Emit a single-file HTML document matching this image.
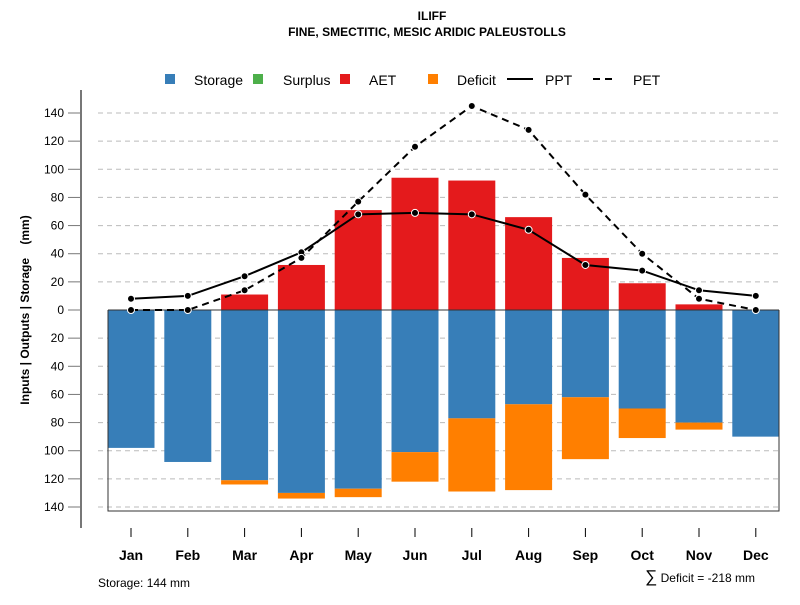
<!DOCTYPE html>
<html><head><meta charset="utf-8"><style>
body{margin:0;background:#fff}
svg text{font-family:"Liberation Sans",Arial,sans-serif}
</style></head><body>
<svg id="c" width="800" height="600" xmlns="http://www.w3.org/2000/svg">
<text x="432" y="20" text-anchor="middle" font-size="12" font-weight="bold">ILIFF</text>
<text x="427" y="36" text-anchor="middle" font-size="12" font-weight="bold">FINE, SMECTITIC, MESIC ARIDIC PALEUSTOLLS</text>
<g id="grid"></g>
<g id="bars"></g>
<g id="lines"></g>
<g id="axes"></g>
<g font-size="14">
<rect x="165" y="74" width="10" height="10" fill="#377eb8"/>
<text x="194" y="85">Storage</text>
<rect x="253" y="74" width="10" height="10" fill="#4daf4a"/>
<text x="283" y="85">Surplus</text>
<rect x="340" y="74" width="10" height="10" fill="#e41a1c"/>
<text x="369" y="85">AET</text>
<rect x="428" y="74" width="10" height="10" fill="#ff7f00"/>
<text x="457" y="85">Deficit</text>
<line x1="507" y1="79" x2="533" y2="79" stroke="#000" stroke-width="2"/>
<text x="545" y="85">PPT</text>
<line x1="593" y1="79" x2="617" y2="79" stroke="#000" stroke-width="2" stroke-dasharray="7,5"/>
<text x="633" y="85">PET</text>
</g>
<text transform="translate(29,310) rotate(-90)" text-anchor="middle" font-size="12" font-weight="bold">Inputs | Outputs | Storage&#160;&#160;&#160;&#160;(mm)</text>
<text x="98" y="587" font-size="12">Storage: 144 mm</text>
<text x="755" y="582" text-anchor="end" font-size="12"><tspan font-size="17">∑</tspan> Deficit = -218 mm</text>
</svg>
<script>
const months=["Jan","Feb","Mar","Apr","May","Jun","Jul","Aug","Sep","Oct","Nov","Dec"];
const storage=[98,108,121,130,127,101,77,67,62,70,80,90];
const deficit=[0,0,3,4,6,21,52,61,44,21,5,0];
const aet=[0,0,11,32,71,94,92,66,37,19,4,0];
const ppt=[8,10,24,41,68,69,68,57,32,28,14,10];
const pet=[0,0,14,37,77,116,145,128,82,40,8,0];
const yTicks=[140,120,100,80,60,40,20,0,20,40,60,80,100,120,140];
const yTickVals=[140,120,100,80,60,40,20,0,-20,-40,-60,-80,-100,-120,-140];
const NS="http://www.w3.org/2000/svg";
const y=v=>310-v*1.4071;
const x=i=>131+i*56.8;
const bw=47;
function mk(t,a,p){const e=document.createElementNS(NS,t);for(const k in a)e.setAttribute(k,a[k]);document.getElementById(p).appendChild(e);return e;}
yTickVals.forEach((v,i)=>{
 if(v!==0){const g=mk('line',{x1:98,x2:782,y1:y(v),y2:y(v),stroke:'#bbb','stroke-dasharray':'5,4'},'grid');
 
 }
 const t=mk('line',{x1:68,x2:81,y1:y(v),y2:y(v),stroke:'#777'},'axes');
 
 
 const l=mk('text',{x:64,y:y(v)+4,'text-anchor':'end','font-size':12},'axes');l.textContent=yTicks[i];
 
 
});
months.forEach((m,i)=>{
 const s=mk('rect',{x:x(i)-bw/2,y:y(0),width:bw,height:y(-storage[i])-y(0),fill:'#377eb8'},'bars');
 
 
 if(deficit[i]>0){const d=mk('rect',{x:x(i)-bw/2,y:y(-storage[i]),width:bw,height:y(-storage[i]-deficit[i])-y(-storage[i]),fill:'#ff7f00'},'bars');
 
 }
 if(aet[i]>0){const a=mk('rect',{x:x(i)-bw/2,y:y(aet[i]),width:bw,height:y(0)-y(aet[i]),fill:'#e41a1c'},'bars');
 
 }
 const tk=mk('line',{x1:x(i),x2:x(i),y1:528,y2:537,stroke:'#000'},'axes');
 
 
 const tl=mk('text',{x:x(i),y:560,'text-anchor':'middle','font-size':14,'font-weight':'bold'},'axes');tl.textContent=m;
 
 
});
const z=mk('line',{x1:108,x2:779,y1:y(0),y2:y(0),stroke:'#333'},'bars');


const bx=mk('polyline',{points:`108,${y(0)} 108,511 779,511 779,${y(0)}`,fill:'none',stroke:'#333'},'bars');


const ax=mk('line',{x1:81,x2:81,y1:90,y2:528,stroke:'#777','stroke-width':2},'axes');


[[ppt,'ppt',null],[pet,'pet','7,5']].forEach(([d,n,da])=>{
 const a={points:d.map((v,i)=>x(i)+','+y(v)).join(' '),fill:'none',stroke:'#000','stroke-width':2};
 if(da)a['stroke-dasharray']=da;
 const l=mk('polyline',a,'lines');
 
 
 d.forEach((v,i)=>{const c=mk('circle',{cx:x(i),cy:y(v),r:3.5,fill:'#000',stroke:'#fff','stroke-width':1},'lines');
 
 });
});
</script>
</body></html>
